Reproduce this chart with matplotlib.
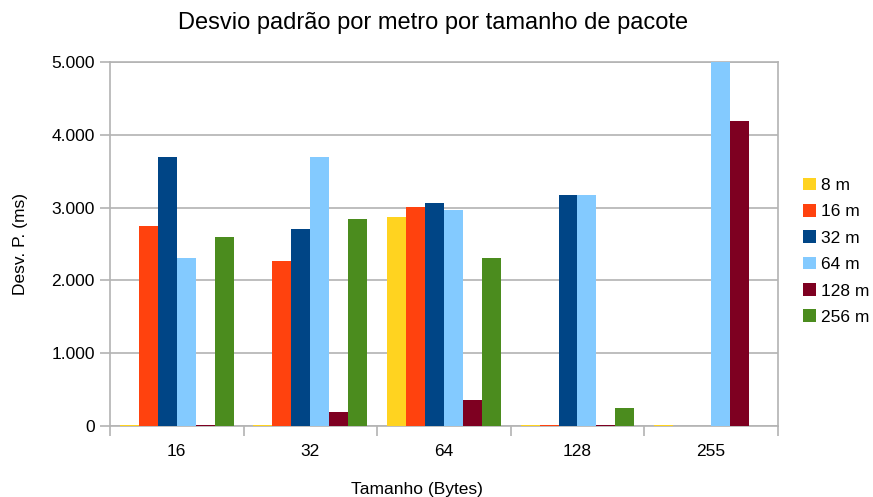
import matplotlib.pyplot as plt
import numpy as np

plt.rcParams['font.family'] = ['Liberation Sans', 'DejaVu Sans']

sizes = ["16", "32", "64", "128", "255"]
series = ["8 m", "16 m", "32 m", "64 m", "128 m", "256 m"]
colors = ["#ffd320", "#ff420e", "#004586", "#83caff", "#7e0021", "#4b8c1e"]

# desvio padrao (ms) per distance, one value per packet size
d8 = [10, 10, 2870, 10, 10]
d16 = [2750, 2270, 3010, 15, 0]
d32 = [3700, 2710, 3060, 3170, 0]
d64 = [2310, 3700, 2970, 3180, 5000]
d128 = [10, 190, 355, 10, 4190]
d256 = [2600, 2840, 2310, 245, 0]
values = [d8, d16, d32, d64, d128, d256]

fig = plt.figure(figsize=(8.73, 4.97), dpi=100)
ax = fig.add_axes([0.126, 0.143, 0.765, 0.732])

x = np.arange(len(sizes))
w = 0.142
for i, (name, vals, c) in enumerate(zip(series, values, colors)):
    ax.bar(x + (i - 2.5) * w, vals, width=w, color=c, label=name,
           zorder=3, linewidth=0)

ax.set_xlim(-0.5, len(sizes) - 0.5)
ax.set_ylim(0, 5000)
ax.set_yticks(np.arange(0, 5001, 1000))
ax.set_yticklabels(["0", "1.000", "2.000", "3.000", "4.000", "5.000"])
ax.set_xticks(x)
ax.set_xticklabels(sizes)
ax.set_xticks(np.arange(-0.5, len(sizes), 1), minor=True)
ax.tick_params(axis='x', which='major', length=0, pad=13, labelsize=12.5)
ax.tick_params(axis='x', which='minor', length=7, color='#b3b3b3', width=1.2)
ax.tick_params(axis='y', length=7, color='#b3b3b3', width=1.2,
               labelsize=12.5, pad=4)
ax.grid(axis='y', color='#b3b3b3', linewidth=1.2, zorder=0)
for s in ax.spines.values():
    s.set_color('#b3b3b3')
    s.set_linewidth(1.2)

ax.set_title("Desvio padrão por metro por tamanho de pacote", fontsize=17,
             pad=24, x=0.483)
ax.set_xlabel("Tamanho (Bytes)", fontsize=12.5)
ax.xaxis.set_label_coords(0.459, -0.155)
ax.set_ylabel("Desv. P. (ms)", fontsize=12.5, labelpad=17)

ax.legend(loc='center left', bbox_to_anchor=(1.02, 0.48), frameon=False,
          fontsize=12.5, handlelength=0.75, handleheight=0.75,
          handletextpad=0.25, labelspacing=0.63, borderaxespad=0.3)

plt.savefig("out.png")
